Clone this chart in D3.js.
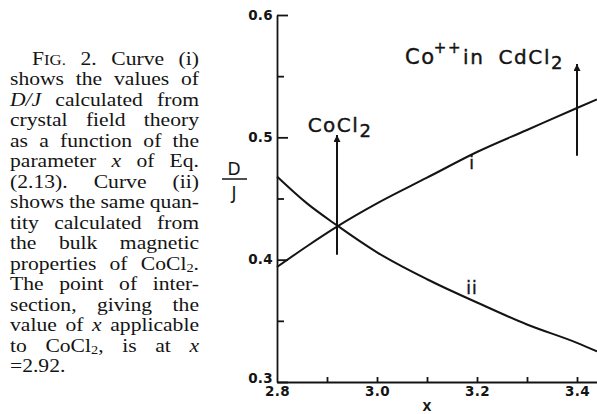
<!DOCTYPE html>
<html>
<head>
<meta charset="utf-8">
<script src="https://cdn.jsdelivr.net/npm/d3@7"></script>
<style>
  html, body { margin: 0; padding: 0; background: #fff; }
  svg { display: block; }
</style>
</head>
<body>
<svg id="chart" width="597" height="414"></svg>
<script>
// D/J from crystal field theory (i) and from bulk magnetic data (ii) versus x
const xValues = [2.8, 2.86, 2.92, 3.0, 3.1, 3.2, 3.3, 3.4, 3.44];
const curveI  = [0.394, 0.411, 0.427, 0.446, 0.467, 0.488, 0.506, 0.524, 0.531];
const curveII = [0.468, 0.446, 0.428, 0.406, 0.384, 0.365, 0.347, 0.332, 0.325];
const curveNames = ["i", "ii"];

const xTickValues = [2.8, 3.0, 3.2, 3.4];
const xTickLabels = ["2.8", "3.0", "3.2", "3.4"];
const xMinorTicks = [2.9, 3.0, 3.1, 3.2, 3.3, 3.4];
const yTickValues = [0.3, 0.4, 0.5, 0.6];
const yTickLabels = ["0.3", "0.4", "0.5", "0.6"];
const yMinorTicks = [0.35, 0.45, 0.55];

// vertical arrows marking the two compounds
const arrowX    = [2.92, 3.4];
const arrowFrom = [0.404, 0.485];
const arrowTo   = [0.502, 0.560];

// caption text: *..* italic, ~XX small capitals, _2 subscript
const captionLines = [
  "F~IG. 2. Curve (i)",
  "shows the values of",
  "*D/J* calculated from",
  "crystal field theory",
  "as a function of the",
  "parameter *x* of Eq.",
  "(2.13). Curve (ii)",
  "shows the same quan-",
  "tity calculated from",
  "the bulk magnetic",
  "properties of CoCl_2.",
  "The point of inter-",
  "section, giving the",
  "value of *x* applicable",
  "to CoCl_2, is at *x*",
  "=2.92."
];

const svg = d3.select("#chart");
const ink = "#141414";
const letterFont = "'DejaVu Sans', Verdana, sans-serif";

const x = d3.scaleLinear().domain([2.8, 3.44]).range([277, 597]);
const y = d3.scaleLinear().domain([0.3, 0.6]).range([382, 15]);

// ---- axes ----
const yAxisMajor = d3.axisLeft(y).tickValues(yTickValues)
  .tickFormat((d, i) => yTickLabels[i]).tickSizeInner(-11).tickSizeOuter(0).tickPadding(4);
const gy = svg.append("g").attr("transform", `translate(${x.range()[0]},0)`).call(yAxisMajor);

const yAxisMinor = d3.axisLeft(y).tickValues(yMinorTicks)
  .tickFormat("").tickSizeInner(-7).tickSizeOuter(0);
const gy2 = svg.append("g").attr("transform", `translate(${x.range()[0]},0)`).call(yAxisMinor);
gy2.select(".domain").remove();

const xAxisTicks = d3.axisBottom(x).tickValues(xMinorTicks)
  .tickFormat("").tickSizeInner(-5).tickSizeOuter(0);
const gx = svg.append("g").attr("transform", `translate(0,${y.range()[0]})`).call(xAxisTicks);

const xAxisLabels = d3.axisBottom(x).tickValues(xTickValues)
  .tickFormat((d, i) => xTickLabels[i]).tickSize(0).tickPadding(4);
const gx2 = svg.append("g").attr("transform", `translate(0,${y.range()[0]})`).call(xAxisLabels);
gx2.select(".domain").remove();

[gy, gy2, gx, gx2].forEach(g => {
  g.selectAll(".domain, .tick line").attr("stroke", ink).attr("stroke-width", 1.8);
  g.selectAll("text")
    .attr("fill", ink)
    .attr("font-family", letterFont)
    .attr("font-size", 13.5)
    .attr("font-weight", "bold")
    .attr("letter-spacing", 0.3);
});
// the lowest y label sits just above the corner so it clears "2.8"
gy.selectAll(".tick text").filter(d => d === yTickValues[0]).attr("dy", "0.05em");

// axis titles
svg.append("text")
  .attr("x", x(3.1)).attr("y", 410.5)
  .attr("text-anchor", "middle")
  .attr("font-family", letterFont).attr("font-size", 11.5).attr("font-weight", "bold")
  .attr("fill", ink).text("X");

const dj = svg.append("g").attr("fill", ink).attr("font-family", letterFont).attr("font-size", 17);
dj.append("text").attr("x", 234).attr("y", 175).attr("text-anchor", "middle").text("D");
dj.append("line").attr("x1", 222).attr("x2", 247).attr("y1", 179).attr("y2", 179)
  .attr("stroke", ink).attr("stroke-width", 1.5);
dj.append("text").attr("x", 234).attr("y", 199).attr("text-anchor", "middle").text("J");

// ---- curves ----
const line = d3.line()
  .x((d, i) => x(xValues[i]))
  .y(d => y(d))
  .curve(d3.curveMonotoneX);

svg.selectAll("path.curve")
  .data([curveI, curveII])
  .join("path")
  .attr("class", "curve")
  .attr("d", line)
  .attr("fill", "none")
  .attr("stroke", ink)
  .attr("stroke-width", 2)
  .attr("stroke-linejoin", "round");

const curveLabelPos = [[3.19, 0.474], [3.19, 0.372]];
svg.selectAll("text.curve-label")
  .data(curveNames)
  .join("text")
  .attr("class", "curve-label")
  .attr("x", (d, i) => x(curveLabelPos[i][0]))
  .attr("y", (d, i) => y(curveLabelPos[i][1]))
  .attr("text-anchor", "middle")
  .attr("font-family", letterFont)
  .attr("font-size", 17)
  .attr("letter-spacing", 1)
  .attr("stroke", ink).attr("stroke-width", 0.4)
  .attr("fill", ink)
  .text(d => d);

// ---- arrows ----
svg.append("defs").append("marker")
  .attr("id", "head")
  .attr("viewBox", "0 0 10 10")
  .attr("refX", 10).attr("refY", 5)
  .attr("markerUnits", "userSpaceOnUse")
  .attr("markerWidth", 10).attr("markerHeight", 7)
  .attr("orient", "auto")
  .append("path").attr("d", "M0,0 L10,5 L0,10 Z").attr("fill", ink);

svg.selectAll("line.arrow")
  .data(arrowX)
  .join("line")
  .attr("class", "arrow")
  .attr("x1", d => x(d)).attr("x2", d => x(d))
  .attr("y1", (d, i) => y(arrowFrom[i]))
  .attr("y2", (d, i) => y(arrowTo[i]))
  .attr("stroke", ink).attr("stroke-width", 2)
  .attr("marker-end", "url(#head)");

// compound labels
const lab1 = svg.append("text")
  .attr("x", x(arrowX[0]) + 3).attr("y", y(arrowTo[0]) - 3)
  .attr("text-anchor", "middle")
  .attr("font-family", letterFont).attr("font-size", 20)
  .attr("letter-spacing", 1.5).attr("fill", ink)
  .attr("stroke", ink).attr("stroke-width", 0.4);
lab1.append("tspan").text("CoCl");
lab1.append("tspan").attr("dy", 5).attr("font-size", 18).text("2");

const lab2 = svg.append("text")
  .attr("x", x(arrowX[1]) - 172).attr("y", y(arrowTo[1]))
  .attr("font-family", letterFont).attr("font-size", 20)
  .attr("letter-spacing", 1.6).attr("fill", ink)
  .attr("stroke", ink).attr("stroke-width", 0.4);
lab2.append("tspan").attr("font-size", 21).text("Co");
lab2.append("tspan").attr("dy", -11).attr("font-size", 15).attr("dx", -2).text("++");
lab2.append("tspan").attr("dy", 11).attr("dx", 1).text("in");
lab2.append("tspan").attr("dx", 14).text("CdCl");
lab2.append("tspan").attr("dy", 5).attr("font-size", 18).text("2");

// ---- justified caption ----
function segments(word) {
  if (/^\*.*\*$/.test(word)) return [{ t: word.slice(1, -1), s: "i" }];
  const out = [];
  const re = /~([A-Z.]+)|_(\d)/g;
  let last = 0, m;
  while ((m = re.exec(word))) {
    if (m.index > last) out.push({ t: word.slice(last, m.index), s: "" });
    if (m[1]) out.push({ t: m[1], s: "sc" });
    else out.push({ t: m[2], s: "sub" });
    last = re.lastIndex;
  }
  if (last < word.length) out.push({ t: word.slice(last), s: "" });
  return out;
}

const capScale = 1.2;
const capWidth = 189 / capScale;
const cap = svg.append("g")
  .attr("transform", `translate(10,0) scale(${capScale},1)`)
  .attr("font-family", "'Liberation Serif', 'Times New Roman', serif")
  .attr("font-size", 18)
  .attr("fill", ink);

captionLines.forEach((ln, li) => {
  const baseY = 65 + li * 20.5;
  const indent = li === 0 ? 22 / capScale : 0;
  const lineG = cap.append("g");
  const words = ln.split(" ").map(w => {
    const t = lineG.append("text").attr("y", baseY);
    let shift = 0;
    segments(w).forEach(sg => {
      const ts = t.append("tspan").text(sg.t);
      if (sg.s === "i") ts.attr("font-style", "italic");
      if (sg.s === "sc") ts.attr("font-size", 14);
      if (sg.s === "sub") { ts.attr("font-size", 12).attr("dy", 1.8 - shift); shift = 1.8; }
      else if (shift) { ts.attr("dy", -shift); shift = 0; }
    });
    return { node: t, w: t.node().getComputedTextLength() };
  });
  const total = d3.sum(words, d => d.w);
  const avail = capWidth - indent;
  const last = li === captionLines.length - 1;
  let gap = words.length > 1 ? (avail - total) / (words.length - 1) : 0;
  if (last) gap = 4;
  let k = 1;
  if (gap < 2 && !last) { gap = 2; k = avail / (total + gap * (words.length - 1)); }
  let cx = indent;
  words.forEach(d => { d.node.attr("x", cx); cx += d.w + gap; });
  if (k !== 1) lineG.attr("transform", `translate(${indent},0) scale(${k},1) translate(${-indent},0)`);
});
</script>
</body>
</html>
